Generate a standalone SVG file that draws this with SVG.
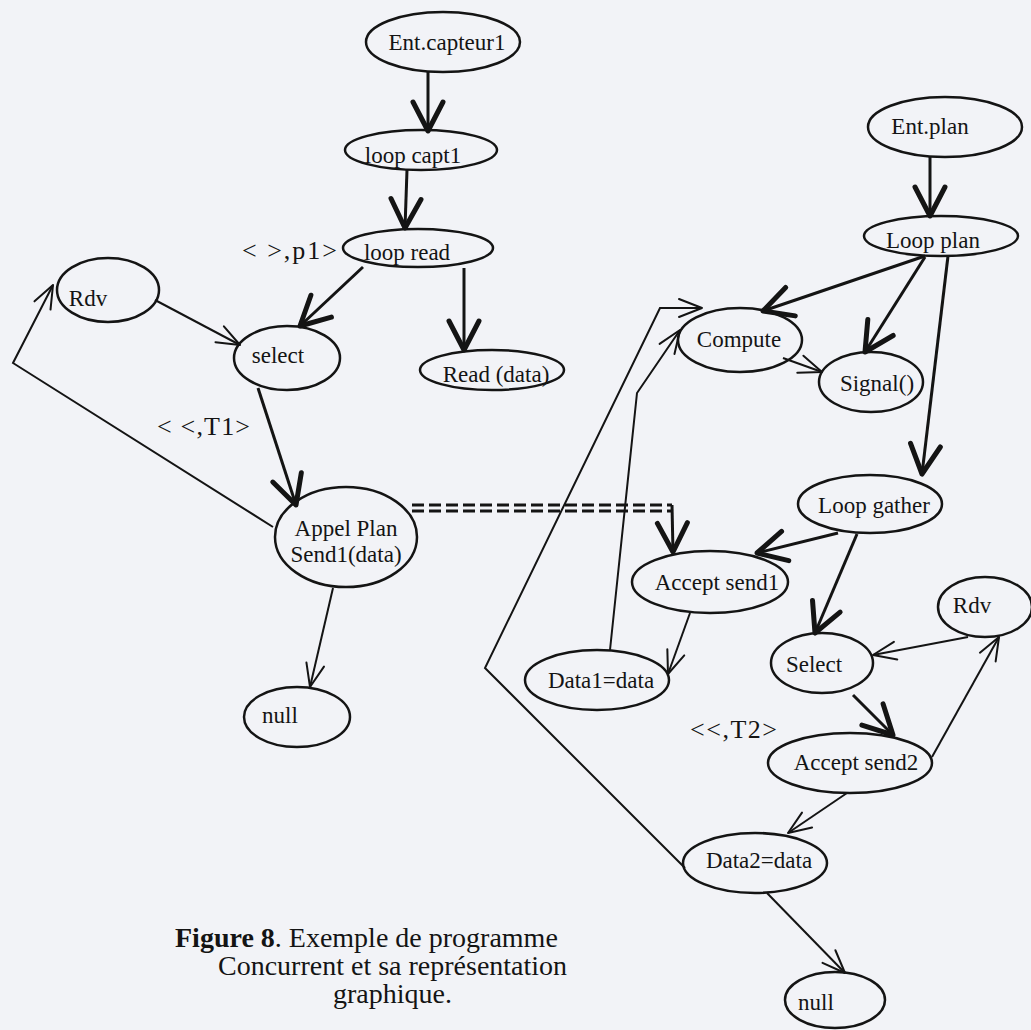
<svg xmlns="http://www.w3.org/2000/svg" width="1031" height="1030" viewBox="0 0 1031 1030">
<style>
  .node ellipse { fill: none; stroke: #141414; stroke-width: 2.5; }
  .node text { font-family: "Liberation Serif", "Times New Roman", serif; font-size: 23px; fill: #141414; text-anchor: middle; }
  .lbl { font-family: "Liberation Serif", "Times New Roman", serif; font-size: 26px; fill: #141414; }
  .cap { font-family: "Liberation Serif", "Times New Roman", serif; font-size: 28px; fill: #141414; }
  .thick { fill: none; stroke: #141414; stroke-width: 3; marker-end: url(#ahThick); }
  .thin { fill: none; stroke: #141414; stroke-width: 2; marker-end: url(#ahThin); }
  .dash { fill: none; stroke: #141414; stroke-width: 3; stroke-dasharray: 12 5; }
</style>
<defs>
  <marker id="ahThick" markerUnits="userSpaceOnUse" viewBox="-34 -20 40 40" refX="0" refY="0" markerWidth="40" markerHeight="40" orient="auto">
    <path d="M-29,-15 L0,0 L-29,15" fill="none" stroke="#141414" stroke-width="5" stroke-linecap="round" stroke-linejoin="round"/>
  </marker>
  <marker id="ahThin" markerUnits="userSpaceOnUse" viewBox="-30 -16 34 32" refX="0" refY="0" markerWidth="34" markerHeight="32" orient="auto">
    <path d="M-23,-9 L0,0 L-23,9" fill="none" stroke="#141414" stroke-width="2" stroke-linecap="round" stroke-linejoin="round"/>
  </marker>
</defs>
<rect x="0" y="0" width="1031" height="1030" fill="#f2f3f7"/>

<g id="connectors">
  <line class="thick" x1="428" y1="72" x2="428" y2="131"/>
  <line class="thick" x1="407" y1="170" x2="405" y2="228"/>
  <line class="thick" x1="464" y1="268" x2="464" y2="350"/>
  <line class="thick" x1="363" y1="267" x2="300" y2="326"/>
  <line class="thin" x1="155" y1="300" x2="240" y2="345"/>
  <polyline class="thin" points="273,527 13,363 53,285"/>
  <line class="thick" x1="258" y1="388" x2="296" y2="505"/>
  <line class="thin" x1="333" y1="588" x2="310" y2="687"/>
  <line class="dash" x1="412" y1="505" x2="672" y2="505"/>
  <line class="dash" x1="412" y1="511" x2="672" y2="511"/>
  <line class="thick" x1="672" y1="505" x2="673" y2="552"/>
  <polyline class="thin" points="685,868 485,668 660,308 702,308"/>
  <polyline class="thin" points="610,650 637,393 680,330"/>
  <line class="thin" x1="783" y1="358" x2="822" y2="372"/>
  <line class="thick" x1="930" y1="157" x2="930" y2="216"/>
  <line class="thick" x1="925" y1="256" x2="763" y2="311"/>
  <line class="thick" x1="925" y1="257" x2="865" y2="352"/>
  <line class="thick" x1="948" y1="256" x2="922" y2="474"/>
  <line class="thick" x1="838" y1="533" x2="757" y2="553"/>
  <line class="thick" x1="857" y1="534" x2="815" y2="633"/>
  <line class="thin" x1="968" y1="637" x2="873" y2="655"/>
  <line class="thick" x1="853" y1="695" x2="893" y2="735"/>
  <line class="thin" x1="932" y1="757" x2="999" y2="637"/>
  <line class="thin" x1="847" y1="793" x2="788" y2="833"/>
  <line class="thin" x1="767" y1="893" x2="845" y2="973"/>
  <line class="thin" x1="690" y1="613" x2="668" y2="674"/>
</g>

<g id="ent-capteur1" class="node"><ellipse cx="443" cy="42" rx="77" ry="30"/><text x="447" y="50">Ent.capteur1</text></g>
<g id="loop-capt1" class="node"><ellipse cx="421" cy="150" rx="76" ry="20"/><text x="413" y="163">loop capt1</text></g>
<g id="loop-read" class="node"><ellipse cx="418" cy="248" rx="75" ry="19"/><text x="407" y="260">loop read</text></g>
<g id="read-data" class="node"><ellipse cx="492" cy="370" rx="72" ry="20"/><text x="496" y="382">Read (data)</text></g>
<g id="rdv-left" class="node"><ellipse cx="108" cy="290" rx="51" ry="32"/><text x="88" y="306">Rdv</text></g>
<g id="select-left" class="node"><ellipse cx="287" cy="358" rx="53" ry="32"/><text x="278" y="363">select</text></g>
<g id="appel-plan" class="node"><ellipse cx="346" cy="537" rx="71" ry="50"/><text x="346" y="536">Appel Plan</text><text x="346" y="562">Send1(data)</text></g>
<g id="null-left" class="node"><ellipse cx="297" cy="717" rx="53" ry="30"/><text x="280" y="723">null</text></g>
<g id="ent-plan" class="node"><ellipse cx="945" cy="127" rx="77" ry="30"/><text x="930" y="134">Ent.plan</text></g>
<g id="loop-plan" class="node"><ellipse cx="941" cy="236" rx="77" ry="20"/><text x="933" y="248">Loop plan</text></g>
<g id="compute" class="node"><ellipse cx="740" cy="340" rx="62" ry="32"/><text x="739" y="347">Compute</text></g>
<g id="signal" class="node"><ellipse cx="871" cy="382" rx="52" ry="30"/><text x="877" y="391">Signal()</text></g>
<g id="loop-gather" class="node"><ellipse cx="870" cy="504" rx="72" ry="29"/><text x="874" y="513">Loop gather</text></g>
<g id="accept-send1" class="node"><ellipse cx="710" cy="582" rx="78" ry="31"/><text x="717" y="590">Accept send1</text></g>
<g id="data1" class="node"><ellipse cx="597" cy="680" rx="72" ry="30"/><text x="601" y="688">Data1=data</text></g>
<g id="rdv-right" class="node"><ellipse cx="985" cy="607" rx="47" ry="30"/><text x="972" y="613">Rdv</text></g>
<g id="select-right" class="node"><ellipse cx="822" cy="663" rx="51" ry="30"/><text x="814" y="672">Select</text></g>
<g id="accept-send2" class="node"><ellipse cx="850" cy="763" rx="82" ry="30"/><text x="856" y="770">Accept send2</text></g>
<g id="data2" class="node"><ellipse cx="755" cy="863" rx="72" ry="30"/><text x="759" y="868">Data2=data</text></g>
<g id="null-right" class="node"><ellipse cx="835" cy="1000" rx="50" ry="28"/><text x="816" y="1010">null</text></g>

<g id="labels">
  <text class="lbl" x="242" y="259" textLength="95" lengthAdjust="spacing">&lt; &gt;,p1&gt;</text>
  <text class="lbl" x="157" y="435" textLength="93" lengthAdjust="spacing">&lt; &lt;,T1&gt;</text>
  <text class="lbl" x="690" y="738" textLength="87" lengthAdjust="spacing">&lt;&lt;,T2&gt;</text>
</g>

<g id="caption">
  <text class="cap" x="175" y="947"><tspan font-weight="bold">Figure 8</tspan>. Exemple de programme</text>
  <text class="cap" x="218" y="975">Concurrent et sa représentation</text>
  <text class="cap" x="333" y="1003">graphique.</text>
</g>
</svg>
